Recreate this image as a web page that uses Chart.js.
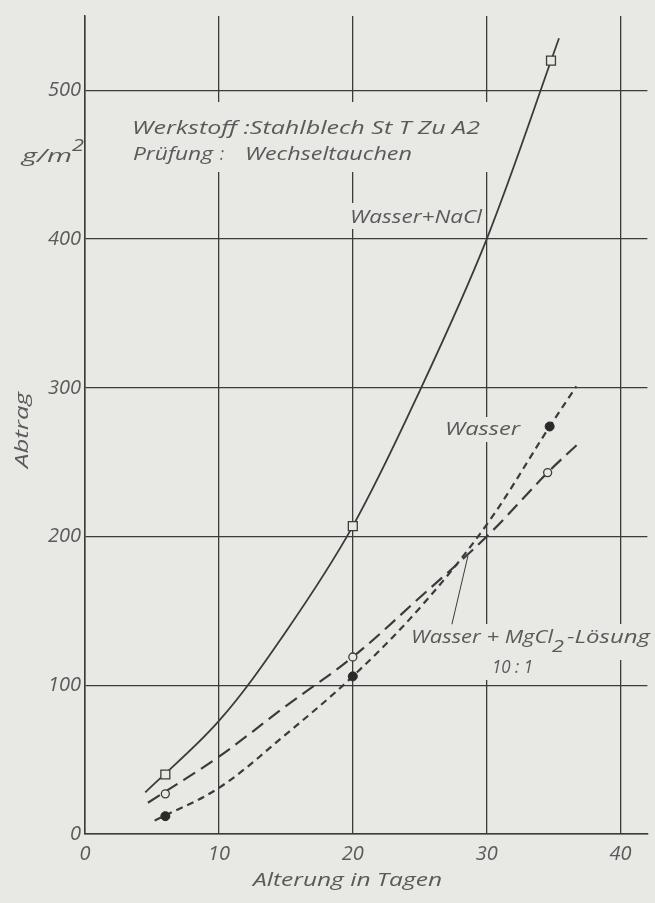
<!DOCTYPE html>
<html>
<head>
<meta charset="utf-8">
<script src="https://cdn.jsdelivr.net/npm/chart.js@4.4.1/dist/chart.umd.min.js"></script>
<style>
html, body { margin: 0; padding: 0; background: #e8e8e4; }
canvas { display: block; }
</style>
</head>
<body>
<canvas id="abtrag" width="655" height="903"></canvas>
<script>
// Abtrag (g/m2) ueber der Alterung in Tagen, Stahlblech St T Zu A2, Wechseltauchen

// Kurve Wasser + NaCl (durchgezogen, Quadrate)
const tageNaCl = [4.5, 10, 15, 20, 25, 30, 35.4];
const abtragNaCl = [28, 76, 136, 207, 298, 400, 535];
const messTageNaCl = [6, 20, 34.8];
const messNaCl = [40, 207, 520];

// Kurve Wasser (kurz gestrichelt, volle Kreise)
const tageWasser = [5.2, 10, 15, 20, 25, 30, 34.7, 36.7];
const abtragWasser = [9, 31, 67, 106, 152, 208, 274, 301];
const messTageWasser = [6, 20, 34.7];
const messWasser = [12, 106, 274];

// Kurve Wasser + MgCl2-Loesung 10:1 (lang gestrichelt, offene Kreise)
const tageMgCl = [4.7, 10, 15, 20, 25, 30, 34.55, 36.9];
const abtragMgCl = [21, 52, 86, 119, 159, 200, 243, 263];
const messTageMgCl = [6, 20, 34.55];
const messMgCl = [27, 119, 243];

// Achsen
const xTicks = [0, 10, 20, 30, 40];
const yTicks = [0, 100, 200, 300, 400, 500];

// Zeigerlinie zur Beschriftung der MgCl2-Kurve (Datenkoordinaten)
const zeigerTage = [28.6, 27.4];
const zeigerAbtrag = [187, 141];

const papier = '#e8e8e4';
const linie = '#3b3b3b';
const schrift = '#5a5a5a';
const familie = '"Open Sans", "DejaVu Sans", sans-serif';

function punkte(xs, ys) {
    return xs.map((x, i) => ({ x: x, y: ys[i] }));
}

// Text mit fester Breite schreiben (wie im Original)
function schreibe(ctx, text, x, y, breite, groesse, winkel) {
    ctx.save();
    ctx.font = 'italic ' + groesse + 'px ' + familie;
    ctx.fillStyle = schrift;
    ctx.textBaseline = 'alphabetic';
    let w = ctx.measureText(text).width;
    ctx.translate(x, y);
    if (winkel) ctx.rotate(winkel);
    ctx.scale(breite / w, 1);
    ctx.fillText(text, 0, 0);
    ctx.restore();
}

// Freistellungen der Gitterlinien hinter den Beschriftungen
const freiflaechen = [
    [125, 102, 365, 70],
    [345, 203, 141, 26],
    [440, 417, 84, 25],
    [405, 624, 250, 36],
    [485, 658, 56, 22]
];

const beschriftung = {
    id: 'beschriftung',
    beforeDraw(chart) {
        let ctx = chart.ctx;
        ctx.save();
        ctx.fillStyle = papier;
        ctx.fillRect(0, 0, chart.width, chart.height);
        ctx.restore();
    },
    beforeDatasetsDraw(chart) {
        let ctx = chart.ctx;
        ctx.save();
        ctx.fillStyle = papier;
        freiflaechen.forEach(f => ctx.fillRect(f[0], f[1], f[2], f[3]));
        ctx.restore();

        schreibe(ctx, 'Werkstoff :Stahlblech St T Zu A2', 132, 134, 348, 18);
        schreibe(ctx, 'Prüfung', 133, 160, 80, 18);
        schreibe(ctx, ':', 220, 160, 4, 18);
        schreibe(ctx, 'Wechseltauchen', 245, 160, 167, 18);
        schreibe(ctx, 'g/m', 22, 162, 50, 19);
        schreibe(ctx, '2', 72, 151, 12, 16);
        schreibe(ctx, 'Wasser+NaCl', 350, 223, 132, 18);
        schreibe(ctx, 'Wasser', 445, 435, 75, 18);
        schreibe(ctx, 'Wasser + MgCl', 411, 643, 142, 18);
        schreibe(ctx, '2', 552, 652, 12, 16);
        schreibe(ctx, '-Lösung', 567, 643, 83, 18);
        schreibe(ctx, '10 : 1', 492, 673, 41, 18);
        schreibe(ctx, 'Alterung in Tagen', 253, 886, 189, 18);
        schreibe(ctx, 'Abtrag', 28, 468, 76, 18, -Math.PI / 2);

        // Zeiger
        let sx = chart.scales.x, sy = chart.scales.y;
        ctx.save();
        ctx.strokeStyle = linie;
        ctx.lineWidth = 1;
        ctx.beginPath();
        ctx.moveTo(sx.getPixelForValue(zeigerTage[0]), sy.getPixelForValue(zeigerAbtrag[0]));
        ctx.lineTo(sx.getPixelForValue(zeigerTage[1]), sy.getPixelForValue(zeigerAbtrag[1]));
        ctx.stroke();
        ctx.restore();
    }
};

let tickFont = { family: familie, size: 20, style: 'italic' };

let context = document.getElementById('abtrag').getContext('2d');
let config = {
    type: 'line',
    data: {
        datasets: [
            {
                data: punkte(messTageNaCl, messNaCl),
                showLine: false,
                pointStyle: 'rect',
                pointRadius: 6.3,
                pointBorderWidth: 1.3,
                pointBorderColor: linie,
                pointBackgroundColor: papier
            },
            {
                data: punkte(messTageMgCl, messMgCl),
                showLine: false,
                pointStyle: 'circle',
                pointRadius: 4,
                pointBorderWidth: 1.3,
                pointBorderColor: linie,
                pointBackgroundColor: papier
            },
            {
                data: punkte(messTageWasser, messWasser),
                showLine: false,
                pointStyle: 'circle',
                pointRadius: 4.5,
                pointBorderWidth: 1,
                pointBorderColor: '#2a2a2a',
                pointBackgroundColor: '#2a2a2a'
            },
            {
                data: punkte(tageNaCl, abtragNaCl),
                borderColor: linie,
                borderWidth: 1.8,
                pointRadius: 0,
                fill: false,
                tension: 0.35
            },
            {
                data: punkte(tageWasser, abtragWasser),
                borderColor: linie,
                borderWidth: 2.2,
                borderDash: [7, 5],
                pointRadius: 0,
                fill: false,
                tension: 0.35
            },
            {
                data: punkte(tageMgCl, abtragMgCl),
                borderColor: linie,
                borderWidth: 2.2,
                borderDash: [14, 7],
                pointRadius: 0,
                fill: false,
                tension: 0.35
            }
        ]
    },
    options: {
        responsive: false,
        animation: false,
        layout: { padding: { top: 12, right: 0, left: 0, bottom: 0 } },
        plugins: {
            legend: { display: false },
            tooltip: { enabled: false }
        },
        scales: {
            x: {
                type: 'linear',
                min: 0,
                max: 42,
                afterBuildTicks: s => { s.ticks = xTicks.map(v => ({ value: v })); },
                afterFit: s => { s.height = 69; },
                grid: { color: linie, lineWidth: 1.3, drawTicks: false },
                border: { color: linie, width: 1.5 },
                ticks: { padding: 8, color: schrift, font: tickFont, maxRotation: 0, autoSkip: false }
            },
            y: {
                min: 0,
                max: 550,
                afterBuildTicks: s => { s.ticks = yTicks.map(v => ({ value: v })); },
                afterFit: s => { s.width = 85; },
                grid: { color: linie, lineWidth: 1.3, drawTicks: false },
                border: { color: linie, width: 1.5 },
                ticks: { padding: 4, color: schrift, font: tickFont, autoSkip: false }
            }
        }
    },
    plugins: [beschriftung]
};
let abtragChart = new Chart(context, config);
</script>
</body>
</html>
